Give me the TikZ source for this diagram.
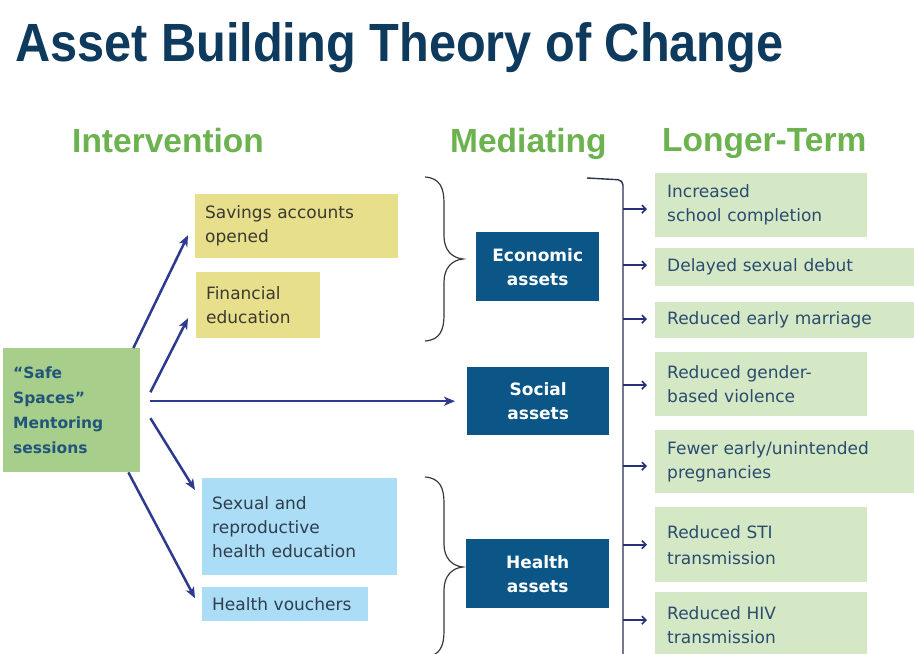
\documentclass[tikz,border=0pt]{standalone}
\usepackage{fontspec}
\setmainfont{DejaVu Sans}
\newfontfamily\headfont{Liberation Sans}
\usetikzlibrary{arrows.meta,calc}

\definecolor{titleblue}{HTML}{0E3A5D}
\definecolor{headgreen}{HTML}{6CB24E}
\definecolor{safegreen}{HTML}{A7CE8B}
\definecolor{safetext}{HTML}{22557A}
\definecolor{ylw}{HTML}{E8DF8C}
\definecolor{ylwtext}{HTML}{3A3A30}
\definecolor{ltblue}{HTML}{ABDDF6}
\definecolor{bluetext}{HTML}{2F3D4C}
\definecolor{darkbox}{HTML}{0B5686}
\definecolor{rgreen}{HTML}{D5E8C5}
\definecolor{rtext}{HTML}{2A4B70}
\definecolor{arrowc}{HTML}{2E3A8E}
\definecolor{bracec}{HTML}{3A3A3A}
\definecolor{barc}{HTML}{2A3050}

\begin{document}
\begin{tikzpicture}[x=1pt,y=-1pt,
  header/.style={anchor=base west,inner sep=0pt,text=headgreen,
    font=\headfont\bfseries\fontsize{33.5}{36}\selectfont},
  box/.style={anchor=north west,inner xsep=10pt,inner ysep=0pt,align=left,
    font=\fontsize{17}{24}\selectfont},
  ybox/.style={box,fill=ylw,text=ylwtext},
  bbox/.style={box,fill=ltblue,text=bluetext},
  rbox/.style={box,fill=rgreen,text=rtext,inner xsep=12pt},
  mbox/.style={anchor=north west,inner sep=0pt,align=center,fill=darkbox,
    text=white,font=\bfseries\fontsize{17}{24}\selectfont},
  bigarrow/.style={draw=arrowc,line width=2.5pt,
    -{Stealth[length=11pt,width=9pt,inset=3pt]}},
  sarr/.style={draw=arrowc!85!black,line width=1.6pt,
    -{Straight Barb[length=4pt,width=8pt]}},
  bracket/.style={draw=bracec,line width=1.2pt},
]
\useasboundingbox (0,0) rectangle (914,654);
\fill[white] (0,0) rectangle (914,654);

% title and column headings
\node[anchor=base west,inner sep=0pt,text=titleblue] (title) at (15,61)
  {\resizebox{768pt}{39pt}{\headfont\bfseries Asset Building Theory of Change}};
\node[header] (hInt) at (72,152) {Intervention};
\node[header] (hMed) at (450,152) {Mediating};
\node[header] (hLong) at (662,151) {Longer-Term};

% intervention
\node[box,fill=safegreen,text=safetext,text width=117pt,minimum height=124pt,
  font=\bfseries\fontsize{15.5}{25}\selectfont] (safe) at (3,348)
  {“Safe\\Spaces”\\Mentoring\\sessions};

\node[ybox,text width=183pt,minimum height=64pt] (sav) at (195,194)
  {Savings accounts\\opened};
\node[ybox,text width=104pt,minimum height=66pt] (fin) at (196,272)
  {Financial\\education};
\node[bbox,text width=175pt,minimum height=97pt] (sex) at (202,478)
  {Sexual and\\reproductive\\health education};
\node[bbox,text width=146pt,minimum height=34pt] (vouch) at (202,587)
  {Health vouchers};

% mediating assets
\node[mbox,minimum width=123pt,minimum height=69pt] (econ) at (476,232)
  {Economic\\assets};
\node[mbox,minimum width=142pt,minimum height=68pt] (social) at (467,367)
  {Social\\assets};
\node[mbox,minimum width=143pt,minimum height=69pt] (health) at (466,539)
  {Health\\assets};

% longer-term outcomes
\node[rbox,text width=188pt,minimum height=64pt] (inc) at (655,173)
  {Increased\\school completion};
\node[rbox,text width=235pt,minimum height=38pt] (delay) at (655,248)
  {Delayed sexual debut};
\node[rbox,text width=235pt,minimum height=36pt] (marr) at (655,302)
  {Reduced early marriage};
\node[rbox,text width=188pt,minimum height=64pt] (gbv) at (655,352)
  {Reduced gender-\\based violence};
\node[rbox,text width=235pt,minimum height=63pt] (fewer) at (655,430)
  {Fewer early/unintended\\pregnancies};
\node[rbox,text width=188pt,minimum height=75pt,
  font=\fontsize{17}{26}\selectfont] (sti) at (655,507)
  {Reduced STI\\transmission};
\node[rbox,text width=188pt,minimum height=66pt] (hiv) at (655,592)
  {Reduced HIV\\transmission};

% arrows out of the mentoring sessions
\draw[bigarrow] ([xshift=-7pt]safe.north east) -- ([xshift=-7pt,yshift=-9pt]sav.west);
\draw[bigarrow] ([xshift=10pt,yshift=18pt]safe.east) -- ([xshift=-8pt,yshift=-13pt]fin.west);
\draw[bigarrow] ([xshift=10pt,yshift=9pt]safe.east) -- ([xshift=-12pt]social.west);
\draw[bigarrow] ([xshift=10pt,yshift=-8pt]safe.east) -- ([xshift=-7pt,yshift=-12pt]sex.north west);
\draw[bigarrow] ([xshift=-12pt]safe.south east) -- ([xshift=-7pt,yshift=6pt]vouch.west);

% braces grouping interventions
\draw[bracket] (425,177) .. controls (440,178) and (444,188) .. (444,203)
  -- (444,236) .. controls (444,250) and (452,258) .. (463,259)
  .. controls (452,260) and (444,268) .. (444,282)
  -- (444,315) .. controls (444,330) and (440,340) .. (425,341);
\draw[bracket] (425,477) .. controls (440,478) and (444,488) .. (444,503)
  -- (444,544) .. controls (444,558) and (452,566) .. (463,567)
  .. controls (452,568) and (444,576) .. (444,590)
  -- (444,631) .. controls (444,646) and (440,656) .. (425,657);

% bracket feeding the outcomes
\coordinate (bar) at (623,180);
\draw[draw=barc,line width=1.4pt,rounded corners=5pt] (587,178) -- (bar) -- (623,662);
\foreach \n/\dy in {inc/-4,delay/2,marr/1,gbv/-1,fewer/-4.5,sti/0,hiv/5}{
  \path ([xshift=-8pt,yshift=\dy pt]\n.west) coordinate (t);
  \draw[sarr] (bar |- t) -- (t);
}
\end{tikzpicture}
\end{document}
